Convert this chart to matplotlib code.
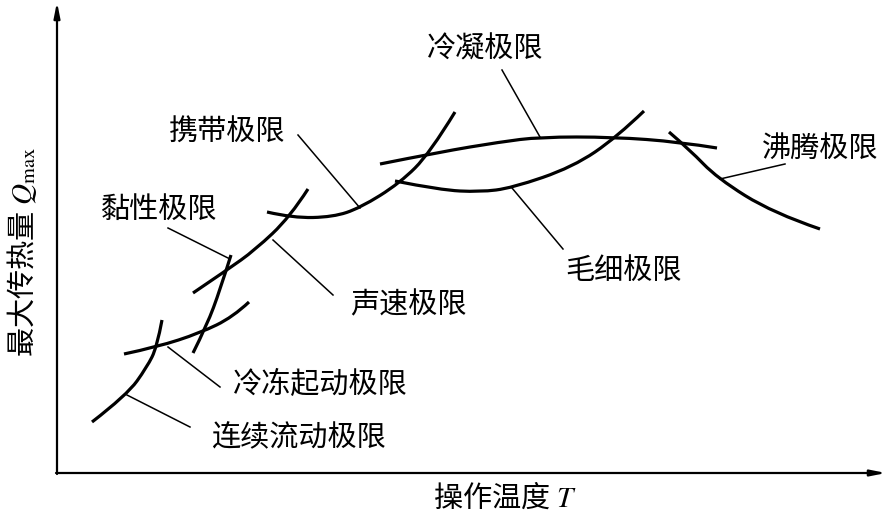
import matplotlib
matplotlib.use("Agg")
import matplotlib.pyplot as plt
from matplotlib.path import Path
from matplotlib.patches import PathPatch

plt.rcParams['font.family'] = ['Noto Sans CJK SC', 'DejaVu Sans']
plt.rcParams['mathtext.fontset'] = 'stix'

# schematic curves, picture coordinates (x right, y down)
continuous_flow = [(92, 422), (127, 395), (147, 367), (157, 347), (162, 320)]
frozen_startup = [(124, 354), (157, 347), (200, 333), (233, 317), (249, 302)]
viscous = [(193, 353), (207, 325), (220, 290), (231, 255)]
sonic = [(193, 293), (227, 270), (255, 250), (290, 217), (308, 189)]
entrainment = [(267, 212), (293, 218), (333, 217), (360, 208), (400, 183), (430, 153), (455, 112)]
condensation = [(380, 164), (440, 152), (500, 142), (540, 137), (613, 137), (680, 142), (717, 148)]
capillary = [(395, 181), (440, 190), (480, 192), (512, 188), (573, 167), (617, 137), (644, 111)]
boiling = [(669, 132), (690, 150), (717, 178), (773, 213), (820, 229)]

curves = [continuous_flow, frozen_startup, viscous, sonic,
          entrainment, condensation, capillary, boiling]

labels = ['连续流动极限', '冷冻起动极限', '黏性极限', '声速极限',
          '携带极限', '冷凝极限', '毛细极限', '沸腾极限']
label_xy = [(299, 438), (320, 385), (159, 210), (408, 305),
            (227, 133), (485, 50), (624, 271), (820, 149)]
leaders = [((127, 395), (190, 427)), ((168, 347), (220, 387)),
           ((168, 228), (230, 259)), ((273, 240), (333, 295)),
           ((298, 135), (360, 208)), ((502, 70), (540, 137)),
           ((512, 188), (563, 249)), ((720, 179), (785, 164))]


def smooth_path(pts):
    # quadratic bezier through midpoints, read points used as controls
    verts = [pts[0]]
    codes = [Path.MOVETO]
    for k in range(1, len(pts) - 1):
        mid = ((pts[k][0] + pts[k + 1][0]) / 2, (pts[k][1] + pts[k + 1][1]) / 2)
        if k == len(pts) - 2:
            mid = pts[-1]
        verts += [pts[k], mid]
        codes += [Path.CURVE3, Path.CURVE3]
    if len(pts) == 2:
        verts.append(pts[1])
        codes.append(Path.LINETO)
    return Path(verts, codes)


fig = plt.figure(figsize=(8.87, 5.17), dpi=100)
ax = fig.add_axes([0, 0, 1, 1])
ax.set_xlim(0, 887)
ax.set_ylim(517, 0)
ax.axis('off')

# axes with arrows
ax.annotate('', xy=(57, 2), xytext=(57, 474),
            arrowprops=dict(arrowstyle='-|>,head_length=0.9,head_width=0.18',
                            color='black', lw=1.6, shrinkA=0, shrinkB=0))
ax.annotate('', xy=(886, 473), xytext=(56, 473),
            arrowprops=dict(arrowstyle='-|>,head_length=0.9,head_width=0.18',
                            color='black', lw=1.6, shrinkA=0, shrinkB=0))

for c in curves:
    ax.add_patch(PathPatch(smooth_path(c), fill=False, lw=2.3,
                           edgecolor='black', capstyle='butt'))

for (p, q) in leaders:
    ax.plot([p[0], q[0]], [p[1], q[1]], color='black', lw=1.1)

for txt, (x, y) in zip(labels, label_xy):
    ax.text(x, y, txt, fontsize=21, ha='center', va='center')

ax.text(505, 498, '操作温度 $T$', fontsize=21, ha='center', va='center')
ax.text(22, 252, '最大传热量 $Q_{\\rm max}$', fontsize=21, ha='center',
        va='center', rotation=90)

fig.savefig('out.png', dpi=100)
